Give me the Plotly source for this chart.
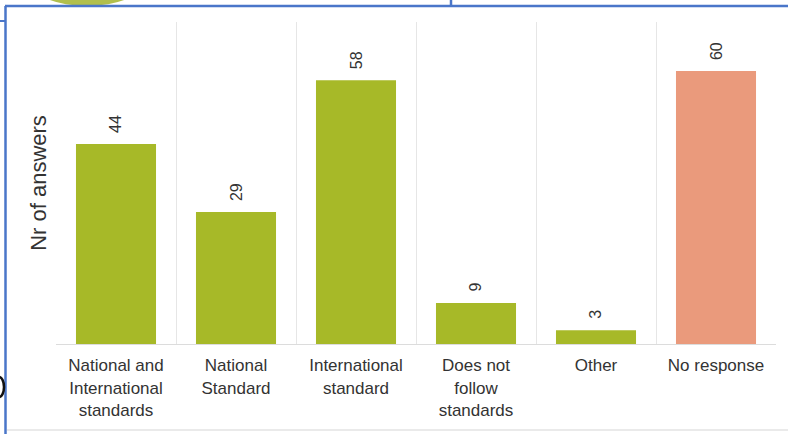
import plotly.graph_objects as go

categories = [
    "National and<br>International<br>standards",
    "National<br>Standard",
    "International<br>standard",
    "Does not<br>follow<br>standards",
    "Other",
    "No response",
]
values = [44, 29, 58, 9, 3, 60]
bar_colors = ["#a7b928", "#a7b928", "#a7b928", "#a7b928", "#a7b928", "#ea9a7c"]
y_title = "Nr of answers"

W, H = 788, 434
L, R, T, B = 56, 12, 22, 90
pw, ph = W - L - R, H - T - B


def px_x(x):
    return (x - L) / pw


def px_y(y):
    return (H - B - y) / ph


font_fam = "Liberation Sans, Arial, sans-serif"

fig = go.Figure()
fig.add_trace(go.Bar(
    x=categories, y=values, marker=dict(color=bar_colors, line=dict(width=0)),
    width=0.667, hoverinfo="skip", showlegend=False,
))

for c, v in zip(categories, values):
    fig.add_annotation(
        x=c, y=v, xref="x", yref="y", text=str(v), textangle=-90,
        showarrow=False, yanchor="bottom", yshift=9,
        font=dict(family=font_fam, size=16, color="#333333"),
    )

# decorations (screenshot frame)
shapes = [
    dict(type="circle", xref="paper", yref="paper",
         x0=px_x(32), x1=px_x(142), y0=px_y(-40), y1=px_y(6),
         fillcolor="#a9b83a", opacity=0.9, line=dict(width=0), layer="above"),
    dict(type="line", xref="paper", yref="paper",
         x0=px_x(5), x1=px_x(790), y0=px_y(6), y1=px_y(6),
         line=dict(color="#4a76c9", width=2.5)),
    dict(type="line", xref="paper", yref="paper",
         x0=px_x(451), x1=px_x(451), y0=px_y(-2), y1=px_y(6),
         line=dict(color="#4a76c9", width=2.5)),
    dict(type="line", xref="paper", yref="paper",
         x0=px_x(5.5), x1=px_x(5.5), y0=px_y(6), y1=px_y(436),
         line=dict(color="#4a76c9", width=2.5)),
    dict(type="line", xref="paper", yref="paper",
         x0=px_x(-2), x1=px_x(6), y0=px_y(21), y1=px_y(21),
         line=dict(color="#4a76c9", width=2)),
    dict(type="line", xref="paper", yref="paper",
         x0=px_x(7), x1=px_x(790), y0=px_y(430), y1=px_y(430),
         line=dict(color="#e3e3e3", width=1.5)),
    dict(type="circle", xref="paper", yref="paper",
         x0=px_x(-6), x1=px_x(4), y0=px_y(397), y1=px_y(377),
         fillcolor="rgba(0,0,0,0)", line=dict(color="#111111", width=2.5)),
]

fig.update_layout(
    width=W, height=H,
    margin=dict(l=L, r=R, t=T, b=B, autoexpand=False),
    paper_bgcolor="white", plot_bgcolor="white",
    bargap=0.333,
    shapes=shapes,
    font=dict(family=font_fam, color="#333333"),
    xaxis=dict(
        type="category", tickson="boundaries", showgrid=True,
        gridcolor="#e6e6e6", gridwidth=1, ticks="", ticklen=0,
        showline=True, linecolor="#dcdcdc", linewidth=1,
        ticklabelstandoff=6,
        tickfont=dict(family=font_fam, size=17, color="#333333"),
        range=[-0.5, 5.5], fixedrange=True,
    ),
    yaxis=dict(
        range=[0, 70.8], showgrid=False, zeroline=False, showticklabels=False,
        ticks="", showline=False,
        title=dict(text=y_title, standoff=2,
                   font=dict(family=font_fam, size=22, color="#333333")),
        fixedrange=True,
    ),
)

fig.write_html(
    "out.html",
    config={"displayModeBar": False},
    post_script="document.body.style.margin='0';document.body.style.padding='0';",
)
